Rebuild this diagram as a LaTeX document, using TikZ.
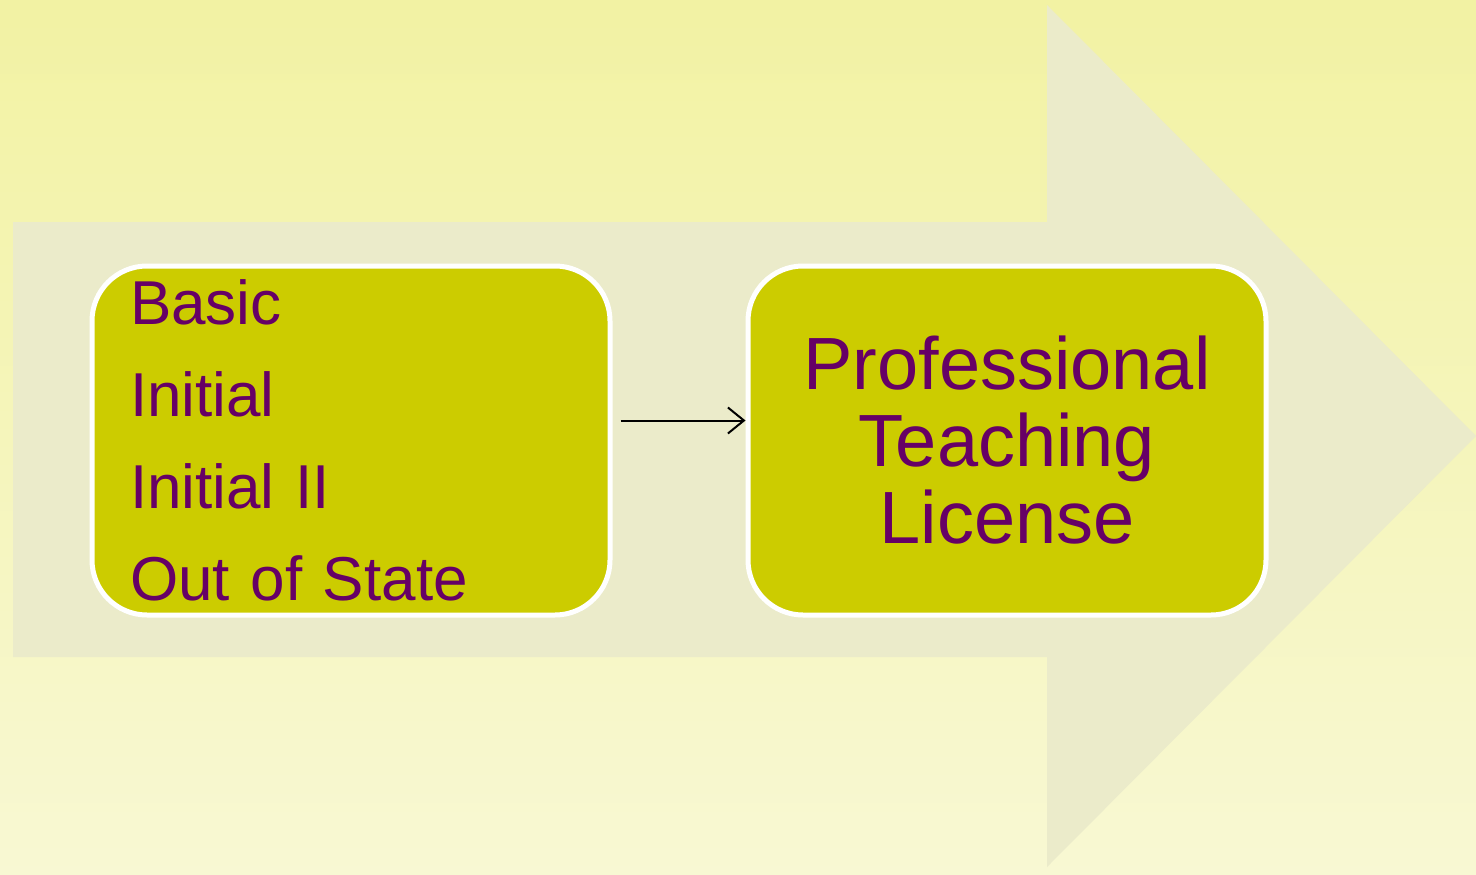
\documentclass[tikz,border=0pt]{standalone}
\usepackage{fontspec}
\setmainfont{Liberation Sans}
\usetikzlibrary{positioning, arrows.meta}
\definecolor{bgtop}{HTML}{F2F2A3}
\definecolor{bgbottom}{HTML}{F8F8D3}
\definecolor{bigarrow}{HTML}{EBEBCA}
\definecolor{boxfill}{HTML}{CCCC00}
\definecolor{plum}{HTML}{660066}

\begin{document}
\begin{tikzpicture}[x=1pt, y=-1pt, every node/.style={text=plum},
    stage/.style={draw=white, line width=5pt, fill=boxfill, rounded corners=55pt, minimum width=518pt, minimum height=349pt, inner ysep=0pt},
    flow/.style={-{Straight Barb[length=16pt, width=26pt]}, line width=2pt, black}]
    % background and big arrow
    \shade[top color=bgtop, bottom color=bgbottom] (0,0) rectangle (1476,875);
    \fill[bigarrow] (13,222) -- (1047,222) -- (1047,5) -- (1476,436) -- (1047,867) -- (1047,657) -- (13,657) -- cycle;

    \node[stage, text width=442pt, inner xsep=38pt, align=left, font=\fontsize{62}{92}\selectfont] (lic) at (351,440.5) {Basic\\Initial\\Initial II\\Out of State};
    \node[stage, text width=480pt, inner xsep=19pt, align=center, font=\fontsize{74}{77}\selectfont] (prof) at (1007,440.5) {Professional\\Teaching\\License};

    \draw[flow, shorten <=8pt] ([yshift=20pt]lic.east) -- ([yshift=20pt]prof.west);
\end{tikzpicture}
\end{document}
